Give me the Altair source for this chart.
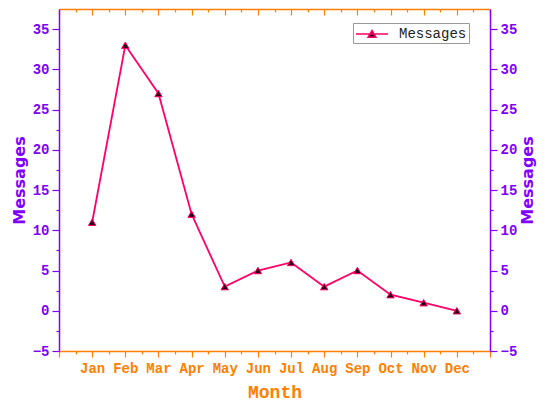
import altair as alt
import pandas as pd

months = ["Jan", "Feb", "Mar", "Apr", "May", "Jun", "Jul", "Aug", "Sep", "Oct", "Nov", "Dec"]
month_idx = list(range(1, 13))
messages = [11, 33, 27, 12, 3, 5, 6, 3, 5, 2, 1, 0]
series_name = "Messages"

x_ticks = [i / 2 for i in range(0, 27)]
y_ticks = [-5 + 2.5 * i for i in range(17)]

df = pd.DataFrame({"idx": month_idx, "month": months, "messages": messages,
                   "series": [series_name] * len(months)})

PURPLE = "#8000FF"
ORANGE = "#FF8000"
PINK = "#FF0066"
DARK = "#2A0018"
W, H = 431, 342

label_arr = "[" + ",".join("'" + m + "'" for m in [""] + months + [""]) + "]"
xscale = alt.Scale(domain=[0, 13], nice=False, zero=False)
yscale = alt.Scale(domain=[-5, 37.5], nice=False, zero=False)

xmajor = {"condition": {"test": "datum.value % 1 === 0", "value": 6}, "value": 3}
ymajor = {"condition": {"test": "datum.value % 5 === 0", "value": 7}, "value": 3}

common_x = dict(values=x_ticks, grid=False, domainColor=ORANGE, tickColor=ORANGE,
                domainWidth=1.5, tickWidth=1.2, labelOverlap=False, labelFlush=False)
common_y = dict(values=y_ticks, grid=False, domainColor=PURPLE, tickColor=PURPLE,
                domainWidth=1.5, tickWidth=1.2, labelOverlap=False, labelFlush=False,
                labelColor=PURPLE, labelFont="Liberation Mono", labelFontWeight="bold",
                labelFontSize=14, labelPadding=3,
                labelExpr="datum.value % 5 === 0 ? datum.label : ''",
                tickSize=ymajor, title=series_name, titleColor=PURPLE,
                titleFont="DejaVu Sans", titleFontWeight="bold", titleFontSize=16)

x_bottom = alt.X("idx:Q", scale=xscale, title="Month",
                 axis=alt.Axis(orient="bottom", tickSize=xmajor,
                               labelExpr="datum.value % 1 === 0 ? " + label_arr + "[datum.value] : ''",
                               labelColor=ORANGE, labelFont="Liberation Mono",
                               labelFontWeight="bold", labelFontSize=14, labelPadding=4,
                               titleColor=ORANGE, titleFont="Liberation Mono",
                               titleFontWeight="bold", titleFontSize=18, titlePadding=8,
                               **common_x))
x_top = alt.X("idx:Q", scale=xscale, title=None,
              axis=alt.Axis(orient="bottom", offset=-H, tickSize=xmajor, labels=False,
                            **common_x))
x_none = alt.X("idx:Q", scale=xscale, axis=None)

y_left = alt.Y("messages:Q", scale=yscale,
               axis=alt.Axis(orient="left", titlePadding=5, **common_y))
y_right = alt.Y("messages:Q", scale=yscale,
                axis=alt.Axis(orient="right", titleAngle=270, titleBaseline="top",
                              titlePadding=3, **common_y))
y_none = alt.Y("messages:Q", scale=yscale, axis=None)

base = alt.Chart(df)

line = base.mark_line(color=PINK, strokeWidth=1.8).encode(x=x_bottom, y=y_left)

legend_path = "M-1,0H3M0.5,0.42L1,-0.45L1.5,0.42Z"
pts = base.mark_point(shape="triangle-up", filled=False, fill=DARK, fillOpacity=1,
                      strokeWidth=1, size=55, opacity=1).encode(
    x=x_none, y=y_none,
    stroke=alt.Stroke("series:N", scale=alt.Scale(range=[PINK]), title=None,
                      legend=alt.Legend(orient="none", legendX=294, legendY=14,
                                        symbolType=legend_path, symbolSize=256,
                                        symbolStrokeWidth=1.5, symbolFillColor=DARK,
                                        labelFont="Liberation Mono", labelFontSize=14,
                                        labelColor="#222222", labelOffset=26,
                                        padding=2, strokeColor="#999999",
                                        fillColor="white", cornerRadius=0))
)

right_layer = base.mark_line(opacity=0).encode(x=x_none, y=y_right)
top_layer = base.mark_line(opacity=0).encode(x=x_top, y=y_none)

chart = alt.layer(line, pts, right_layer, top_layer).resolve_scale(
    x="independent", y="independent", stroke="independent"
).properties(
    width=W, height=H,
    autosize=alt.AutoSizeParams(type="none"),
    padding={"left": 51, "top": 1, "right": 48, "bottom": 51},
).configure_view(stroke=None)

chart.save("out.html", embed_options={"renderer": "svg", "actions": False})
